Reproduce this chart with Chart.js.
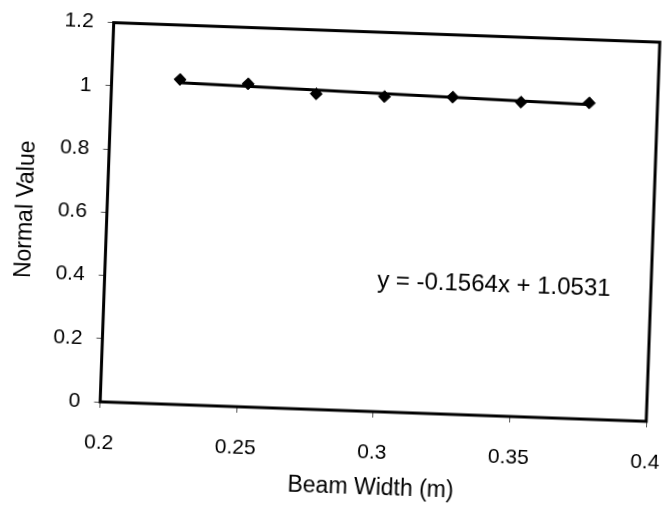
<!DOCTYPE html>
<html>
<head>
<meta charset="utf-8">
<title>Beam Width vs Normal Value</title>
<script src="https://cdn.jsdelivr.net/npm/chart.js@4.4.1/dist/chart.umd.min.js"></script>
<style>
  html, body { margin: 0; padding: 0; background: #fff; overflow: hidden; }
  body { width: 663px; height: 508px; position: relative; }
  #wrap { position: absolute; left: -20px; top: -20px; }
  #chart { display: block; transform: rotate(2.05deg); transform-origin: 351.5px 274px; }
</style>
</head>
<body>
<div id="wrap"><canvas id="chart" width="720" height="560"></canvas></div>
<script>
// measured points
const beamWidth = [0.225, 0.25, 0.275, 0.3, 0.325, 0.35, 0.375];
const normalValue = [1.028, 1.022, 0.998, 0.997, 1.003, 0.995, 1.0];

// linear trendline y = a*x + b
const trendSlope = -0.1564;
const trendIntercept = 1.0531;

const xTickValues = [0.2, 0.25, 0.3, 0.35, 0.4];
const yTickValues = [0, 0.2, 0.4, 0.6, 0.8, 1, 1.2];

const xTitle = 'Beam Width (m)';
const yTitle = 'Normal Value';

const FONT = '"Liberation Sans", Arial, sans-serif';
Chart.defaults.font.family = FONT;
Chart.defaults.font.size = 21;
Chart.defaults.color = '#000';

function buildPoints(){
    return beamWidth.map((x, i) => ({x: x, y: normalValue[i]}));
}

function buildTrend(){
    const x0 = beamWidth[0];
    const x1 = beamWidth[beamWidth.length - 1];
    return [
        {x: x0, y: trendSlope * x0 + trendIntercept},
        {x: x1, y: trendSlope * x1 + trendIntercept}
    ];
}

function fmt(v){
    return String(Number(v.toFixed(3)));
}

// plot frame and the trendline equation
const framePlugin = {
    id: 'frame',
    afterDraw(chart){
        const {ctx, chartArea: a, scales} = chart;
        ctx.save();
        ctx.strokeStyle = '#000';
        ctx.lineWidth = 3;
        ctx.strokeRect(a.left, a.top, a.right - a.left, a.bottom - a.top);

        const sign = trendIntercept < 0 ? '-' : '+';
        const eq = 'y = ' + trendSlope + 'x ' + sign + ' ' + Math.abs(trendIntercept);
        ctx.fillStyle = '#000';
        ctx.font = '24px ' + FONT;
        ctx.textAlign = 'center';
        ctx.textBaseline = 'middle';
        ctx.fillText(eq, scales.x.getPixelForValue(0.3425), scales.y.getPixelForValue(0.414));
        ctx.restore();
    }
};

const config = {
    type: 'scatter',
    data: {
        datasets: [{
            label: 'Normal Value',
            data: buildPoints(),
            pointStyle: 'rectRot',
            pointRadius: 6,
            pointBackgroundColor: '#000',
            pointBorderColor: '#000',
            pointBorderWidth: 1,
            showLine: false,
            order: 1
        }, {
            label: 'Linear trend',
            data: buildTrend(),
            showLine: true,
            borderColor: '#000',
            borderWidth: 3,
            pointRadius: 0,
            order: 2
        }]
    },
    options: {
        responsive: false,
        animation: false,
        layout: {
            padding: {top: 50.6, right: 48, bottom: 30, left: 0}
        },
        plugins: {
            legend: {display: false},
            tooltip: {enabled: false}
        },
        scales: {
            x: {
                type: 'linear',
                min: 0.2,
                max: 0.4,
                afterBuildTicks: s => { s.ticks = xTickValues.map(v => ({value: v})); },
                afterFit: s => { s.height = 100; },
                ticks: {
                    padding: 23,
                    maxRotation: 0,
                    callback: v => fmt(v)
                },
                grid: {
                    display: true,
                    drawOnChartArea: false,
                    tickLength: 6,
                    tickColor: '#555',
                    tickWidth: 1
                },
                border: {display: false},
                title: {
                    display: true,
                    text: xTitle,
                    font: {size: 23},
                    padding: {top: 0, bottom: 10}
                }
            },
            y: {
                type: 'linear',
                min: 0,
                max: 1.2,
                afterBuildTicks: s => { s.ticks = yTickValues.map(v => ({value: v})); },
                afterFit: s => { s.width = 125.6; },
                ticks: {
                    padding: 14,
                    callback: v => fmt(v)
                },
                grid: {
                    display: true,
                    drawOnChartArea: false,
                    tickLength: 6,
                    tickColor: '#555',
                    tickWidth: 1
                },
                border: {display: false},
                title: {
                    display: true,
                    text: yTitle,
                    font: {size: 23},
                    padding: {top: 31, bottom: 0}
                }
            }
        }
    },
    plugins: [framePlugin]
};

new Chart(document.getElementById('chart'), config);
</script>
</body>
</html>
